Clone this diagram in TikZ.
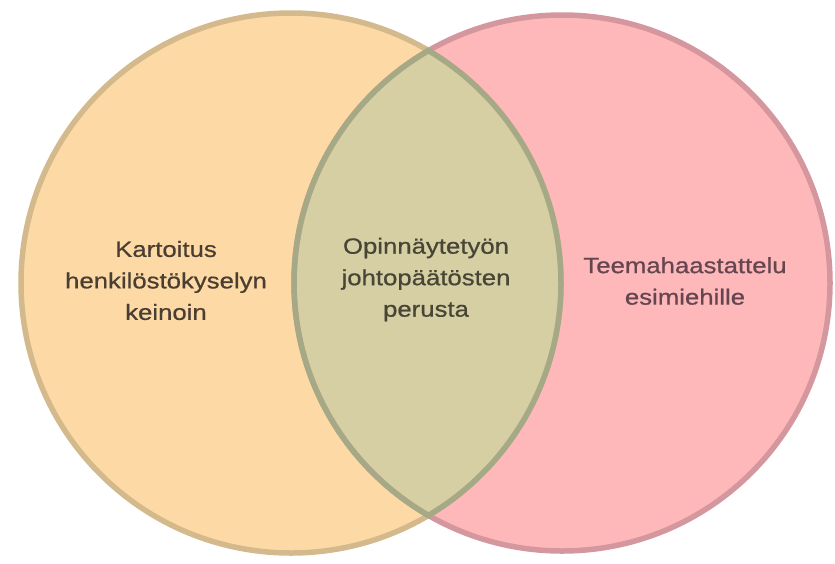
\documentclass[tikz,border=0pt]{standalone}
\usepackage{fontspec}
\setmainfont{Liberation Sans}[FakeStretch=1.17, FakeBold=0.7]
\definecolor{leftfill}{HTML}{FDDAA5}
\definecolor{leftline}{HTML}{D4B98C}
\definecolor{rightfill}{HTML}{FFB8BA}
\definecolor{rightline}{HTML}{D4979E}
\definecolor{lensfill}{HTML}{D6CFA4}
\definecolor{lensline}{HTML}{A6A985}
\definecolor{lefttext}{HTML}{4A3E33}
\definecolor{midtext}{HTML}{474535}
\definecolor{righttext}{HTML}{654650}
\tikzset{
  ring/.style={line width=5.5pt},
  label/.style={align=center, inner sep=0pt,
    font=\fontsize{22}{31.5}\selectfont}
}
\begin{document}
\begin{tikzpicture}[x=1pt,y=-1pt]
\useasboundingbox (0,0) rectangle (835,563);
\coordinate (cl) at (291,283);
\coordinate (cr) at (562,283);
% circle fills
\fill[leftfill] (cl) circle (270pt);
\fill[rightfill] (cr) circle (268pt);
% overlap region
\begin{scope}
  \clip (cl) circle (270pt);
  \fill[lensfill] (cr) circle (268pt);
\end{scope}
% outer outlines
\draw[ring, leftline] (cl) circle (270pt);
\draw[ring, rightline] (cr) circle (268pt);
% outline of the overlap
\begin{scope}
  \clip (cl) circle (272.75pt);
  \draw[ring, lensline] (cr) circle (268pt);
\end{scope}
\begin{scope}
  \clip (cr) circle (270.75pt);
  \draw[ring, lensline] (cl) circle (270pt);
\end{scope}
% labels
\node[label, text=lefttext] (left) at (166,280.5) {Kartoitus\\henkilöstökyselyn\\keinoin};
\node[label, text=midtext] (mid) at (426,279.5) {Opinnäytetyön\\johtopäätösten\\perusta};
\node[label, text=righttext] (right) at (685,281) {Teemahaastattelu\\esimiehille};
\end{tikzpicture}
\end{document}
